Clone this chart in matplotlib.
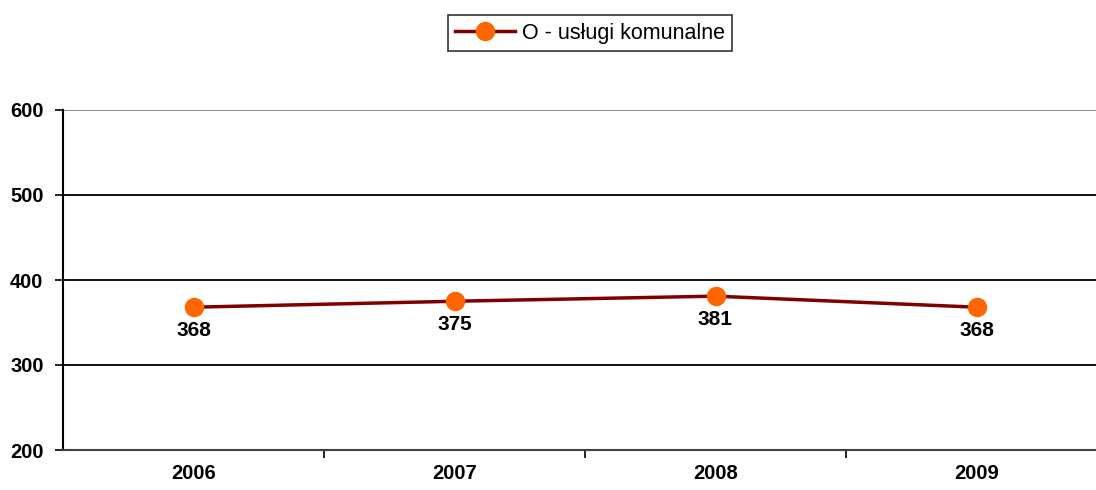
import matplotlib.pyplot as plt
import numpy as np

# ====== DATA ======
years = ['2006', '2007', '2008', '2009']
values = [368, 375, 381, 368]
series_name = 'O - usługi komunalne'

plt.rcParams['font.family'] = ['Liberation Sans', 'DejaVu Sans']

fig = plt.figure(figsize=(10.96, 4.90), dpi=100)
ax = fig.add_axes([63 / 1096, 40 / 490, 1044 / 1096, 340 / 490])

x = np.arange(len(years))
ax.plot(x, values, color='#800000', linewidth=2.5, marker='o',
        markersize=13, markerfacecolor='#FF6600', markeredgecolor='#FF6600',
        label=series_name, zorder=3)

for xi, v in zip(x, values):
    ax.annotate(str(v), (xi, v), xytext=(0, -10), textcoords='offset points',
                ha='center', va='top', fontsize=15, fontweight='bold')

ax.set_xlim(-0.5, 3.5)
ax.set_ylim(200, 600)
ax.set_yticks([200, 300, 400, 500, 600])
ax.set_yticklabels([str(t) for t in [200, 300, 400, 500, 600]],
                   fontsize=14.5, fontweight='bold')

# category labels at centers, tick marks between categories
ax.set_xticks([0.5, 1.5, 2.5], minor=False)
ax.set_xticklabels([])
ax.set_xticks(x, minor=True)
ax.set_xticklabels(years, minor=True, fontsize=14.5, fontweight='bold')
ax.tick_params(axis='x', which='minor', length=0, pad=10)
ax.tick_params(axis='x', which='major', length=6, width=1.2, direction='out')
ax.tick_params(axis='y', length=6, width=1.2, direction='out', pad=8)

for y in [300, 400, 500]:
    ax.axhline(y, color='black', linewidth=1.3, zorder=1)
ax.axhline(600, color='#808080', linewidth=1.3, zorder=1)

ax.spines['top'].set_visible(False)
ax.spines['right'].set_visible(False)
ax.spines['left'].set_linewidth(1.5)
ax.spines['bottom'].set_linewidth(1.5)
ax.spines['bottom'].set_color('#404040')

leg = fig.legend(loc='center', bbox_to_anchor=(590 / 1096, 1 - 33 / 490),
                 fontsize=15.5, frameon=True, fancybox=False, handlelength=2.8,
                 handletextpad=0.3, borderpad=0.35, borderaxespad=0)
leg.get_frame().set_edgecolor('black')
leg.get_frame().set_linewidth(1.2)

fig.savefig('out.png', dpi=100)
